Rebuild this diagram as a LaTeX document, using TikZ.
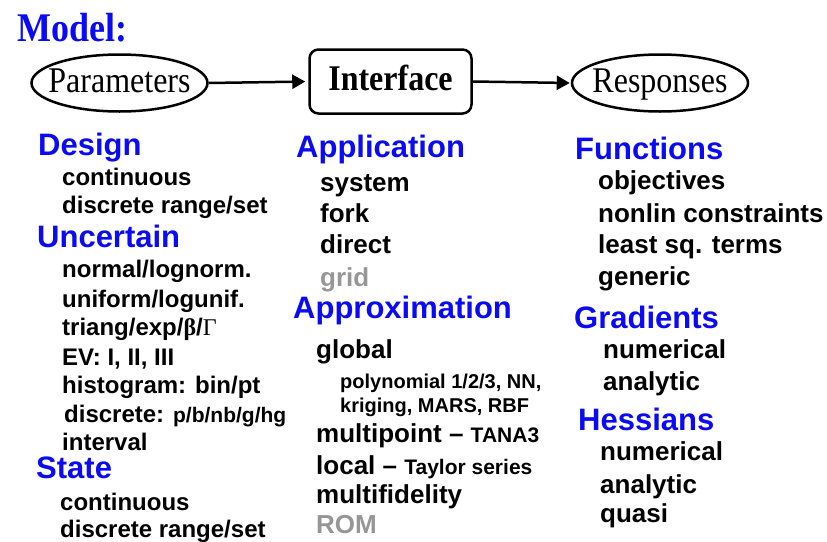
\documentclass[tikz,border=0pt]{standalone}
\usepackage{fontspec}
\usepackage{graphicx}
\setmainfont{Liberation Serif}
\newfontfamily\arial{Liberation Sans}
\usetikzlibrary{shapes.geometric,arrows.meta}
\definecolor{headblue}{RGB}{10,10,245}
\definecolor{dimgray}{RGB}{150,150,150}
\newcommand{\fs}[1]{\fontsize{#1}{#1}\selectfont}
\newcommand{\tall}[1]{\scalebox{1}[1.13]{#1}}
% ellipse label: a narrow box so the shape keeps its given size
\newcommand{\ovaltext}[1]{\makebox[100pt]{\tall{#1}}}
\tikzset{
  flow/.style={line width=2.5pt, draw=black},
  oval/.style={flow, ellipse, minimum width=176pt, minimum height=57pt, inner sep=0pt,
    text height=24pt, text depth=6pt, font=\fs{32}},
  iface/.style={flow, rectangle, rounded corners=9pt, minimum width=162pt, minimum height=64pt,
    inner sep=0pt, text height=24pt, text depth=6pt, font=\bfseries\fs{32}},
  link/.style={line width=2.5pt, -{Triangle[length=13pt,width=14pt]}},
  head/.style={anchor=base west, inner sep=0pt, text=headblue, font=\arial\bfseries\fs{31}},
  lefti/.style={anchor=base west, inner sep=0pt, font=\arial\bfseries\fs{24}},
  midi/.style={anchor=base west, inner sep=0pt, font=\arial\bfseries\fs{26}},
  subi/.style={anchor=base west, inner sep=0pt, font=\arial\bfseries\fs{20}},
  off/.style={text=dimgray}
}
\newcommand{\sm}[1]{{\fs{21}#1}}
\begin{document}
\begin{tikzpicture}[x=1pt,y=-1pt]
\useasboundingbox (0,0) rectangle (827,541);

% title
\node[anchor=base west, inner sep=0pt, text=headblue, font=\bfseries\fs{36}] (title) at (17,41) {\tall{Model:}};

% model chain
\node[oval] (par) at (119.5,83) {\ovaltext{Parameters}};
\node[iface] (itf) at (390.5,81.5) {\tall{Interface}};
\node[oval] (rsp) at (660,83) {\ovaltext{Responses}};
\draw[link, shorten >=3pt] (par.east) -- (itf.west);
\draw[link, shorten >=1pt] (itf.east) -- (rsp.west);

% parameters column
\node[head]  (design) at (38,155) {Design};
\node[lefti] (d1) at (62,185) {continuous};
\node[lefti] (d2) at (62,213) {discrete range/set};
\node[head]  (unc) at (37,247) {Uncertain};
\node[lefti] (u1) at (62,277) {normal/lognorm.};
\node[lefti] (u2) at (62,307) {uniform/logunif.};
\node[lefti] (u3) at (62,335) {triang/exp/{\rmfamily\bfseries β}/{\rmfamily\mdseries Γ}};
\node[lefti] (u4) at (62,365) {EV: I, II, III};
\node[lefti] (u5) at (62,393) {histogram: bin/pt};
\node[lefti] (u6) at (64,422) {discrete: \sm{p/b/nb/g/hg}};
\node[lefti] (u7) at (62,450) {interval};
\node[head]  (state) at (36,478) {State};
\node[lefti] (s1) at (60,510) {continuous};
\node[lefti] (s2) at (60,537) {discrete range/set};

% interface column
\node[head] (app) at (296,157) {Application};
\node[midi] (a1) at (320,191) {system};
\node[midi] (a2) at (320,222) {fork};
\node[midi] (a3) at (320,253) {direct};
\node[midi, off] (a4) at (320,286) {grid};
\node[head] (apx) at (293,318) {Approximation};
\node[midi] (x1) at (316,358) {global};
\node[subi] (x2) at (340,388) {polynomial 1/2/3, NN,};
\node[subi] (x3) at (340,412) {kriging, MARS, RBF};
\node[midi] (x4) at (316,442) {multipoint – \sm{TANA3}};
\node[midi] (x5) at (316,474) {local – \sm{Taylor series}};
\node[midi] (x6) at (316,503) {multifidelity};
\node[midi, off] (x7) at (316,533) {ROM};

% responses column
\node[head] (fun) at (575,159) {Functions};
\node[midi] (f1) at (598,189) {objectives};
\node[midi] (f2) at (598,222) {nonlin constraints};
\node[midi] (f3) at (598,253) {least sq. terms};
\node[midi] (f4) at (598,285) {generic};
\node[head] (grd) at (574,328) {Gradients};
\node[midi] (g1) at (603,358) {numerical};
\node[midi] (g2) at (603,390) {analytic};
\node[head] (hes) at (578,430) {Hessians};
\node[midi] (h1) at (600,460) {numerical};
\node[midi] (h2) at (600,493) {analytic};
\node[midi] (h3) at (600,522) {quasi};
\end{tikzpicture}
\end{document}
